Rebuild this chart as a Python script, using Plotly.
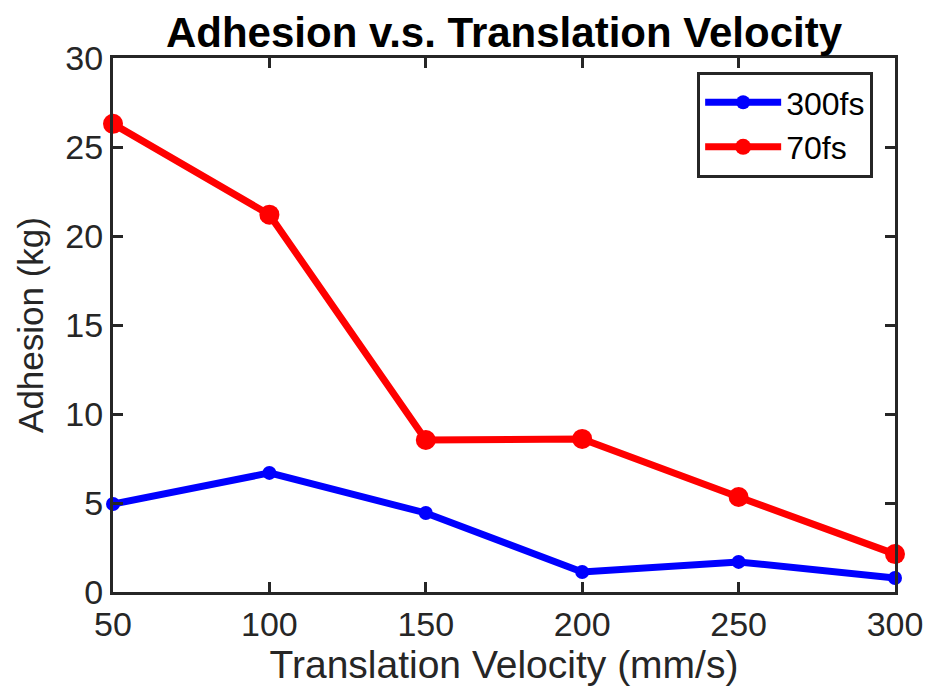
import plotly.graph_objects as go

velocity = [50, 100, 150, 200, 250, 300]
adhesion_300fs = [4.94, 6.69, 4.44, 1.12, 1.69, 0.79]
adhesion_70fs = [26.3, 21.2, 8.54, 8.6, 5.34, 2.13]
x_ticks = [50, 100, 150, 200, 250, 300]
y_ticks = [0, 5, 10, 15, 20, 25, 30]

AX = "#262626"
FONT = "Liberation Sans, Arial, sans-serif"

fig = go.Figure()
fig.add_trace(go.Scatter(
    x=velocity, y=adhesion_300fs, name="300fs", mode="lines+markers",
    line=dict(color="#0000ff", width=7),
    marker=dict(color="#0000ff", size=14),
    cliponaxis=False,
))
fig.add_trace(go.Scatter(
    x=velocity, y=adhesion_70fs, name="70fs", mode="lines+markers",
    line=dict(color="#ff0000", width=7),
    marker=dict(color="#ff0000", size=20),
    cliponaxis=False,
))

axis_common = dict(
    showline=True, linewidth=3, linecolor=AX, mirror="ticks",
    ticks="inside", ticklen=10, tickwidth=3, tickcolor=AX,
    showgrid=False, zeroline=False, automargin=False,
    tickfont=dict(family=FONT, size=34, color=AX),
)

fig.update_layout(
    width=928, height=691,
    margin=dict(l=113, r=33, t=58, b=99),
    paper_bgcolor="white", plot_bgcolor="white",
    title=dict(text="<b>Adhesion v.s. Translation Velocity</b>",
               x=0.5, xanchor="center", xref="paper", y=0.953, yanchor="middle",
               font=dict(family=FONT, size=42, color="black")),
    xaxis=dict(range=[50, 300], tickvals=x_ticks, ticktext=[str(v) for v in x_ticks],
               title=dict(text="Translation Velocity (mm/s)", standoff=8,
                          font=dict(family=FONT, size=39, color=AX)),
               **axis_common),
    yaxis=dict(range=[0, 30], tickvals=y_ticks, ticktext=[str(v) for v in y_ticks],
               title=dict(text="Adhesion (kg)", standoff=12,
                          font=dict(family=FONT, size=35, color=AX)),
               **axis_common),
    legend=dict(x=0.747, y=0.974, xanchor="left", yanchor="top",
                bgcolor="white", bordercolor=AX, borderwidth=3,
                font=dict(family=FONT, size=32, color="black"),
                itemwidth=76, tracegroupgap=0),
    showlegend=True,
)

fig.write_html("out.html", config={"displayModeBar": False},
               post_script="document.body.style.margin='0';document.body.style.overflow='hidden';")
